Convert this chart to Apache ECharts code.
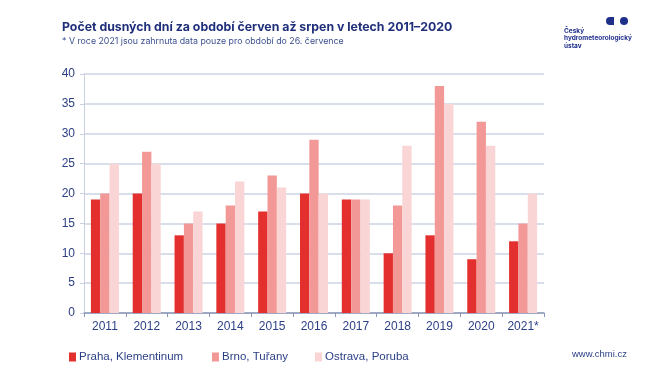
<!DOCTYPE html>
<html><head><meta charset="utf-8">
<script src="https://cdn.jsdelivr.net/npm/echarts@6/dist/echarts.min.js"></script>
<style>html,body{margin:0;padding:0;background:#fff}#c{width:670px;height:376px}</style>
</head><body><div id="c"></div>
<script>
const categories = ['2011','2012','2013','2014','2015','2016','2017','2018','2019','2020','2021*'];
const praha = [19,20,13,15,17,20,19,10,13,9,12];
const brno = [20,27,15,18,23,29,19,18,38,32,15];
const ostrava = [25,25,17,22,21,20,19,28,35,28,20];
const seriesNames = ['Praha, Klementinum','Brno, Tuřany','Ostrava, Poruba'];
const yTicks = [0,5,10,15,20,25,30,35,40];

const navy = '#2b3f85';
const colors = ['#e3302f','#f29998','#fad5d5'];
const chart = echarts.init(document.getElementById('c'));
const legendBase = {
  top: 346, itemWidth: 7, itemHeight: 9, icon: 'rect', itemGap: 4,
  textStyle: {color: navy, fontFamily: 'Liberation Sans', fontSize: 11.5, padding:[0,0,0,-2]},
  selectedMode: false
};
chart.setOption({
  animation: false,
  color: colors,
  title: [{
    text: 'Počet dusných dní za období červen až srpen v letech 2011–2020',
    left: 57, top: 16,
    textStyle: {color: '#1f2f7a', fontFamily: 'Inter', fontWeight: 'bold', fontSize: 12.3}
  },{
    text: '* V roce 2021 jsou zahrnuta data pouze pro období do 26. července',
    left: 57, top: 32,
    textStyle: {color: '#3b4f8f', fontFamily: 'Inter', fontWeight: 'normal', fontSize: 8.8}
  }],
  legend: [
    Object.assign({}, legendBase, {left: 64, data: [seriesNames[0]]}),
    Object.assign({}, legendBase, {left: 207, data: [seriesNames[1]]}),
    Object.assign({}, legendBase, {left: 310, data: [seriesNames[2]]})
  ],
  grid: {left: 84, right: 126, top: 74, bottom: 63},
  xAxis: {
    type: 'category', data: categories,
    axisLine: {lineStyle: {color: '#8d98b8', width: 1.5}},
    axisTick: {show: true, lineStyle: {color: '#8d98b8'}, length: 4},
    axisLabel: {color: navy, fontFamily: 'Liberation Sans', fontSize: 12, margin: 8}
  },
  yAxis: {
    type: 'value', min: 0, max: 40, interval: 5,
    axisLine: {show: true, lineStyle: {color: '#c9d0e2'}},
    axisTick: {show: true, length: 4, lineStyle: {color: '#c9d0e2'}},
    splitLine: {lineStyle: {color: '#ccd3e4', width: 1.5}},
    axisLabel: {color: navy, fontFamily: 'Liberation Sans', fontSize: 12, margin: 9}
  },
  series: [
    {name: seriesNames[0], type: 'bar', data: praha, barGap: '0%', barCategoryGap: '33%'},
    {name: seriesNames[1], type: 'bar', data: brno, barGap: '0%', barCategoryGap: '33%'},
    {name: seriesNames[2], type: 'bar', data: ostrava, barGap: '0%', barCategoryGap: '33%'}
  ],
  graphic: [
    {type: 'circle', shape: {cx: 610, cy: 21, r: 4}, style: {fill: '#1f2f8a'}},
    {type: 'rect', shape: {x: 609, y: 17, width: 5, height: 8}, style: {fill: '#1f2f8a'}},
    {type: 'circle', shape: {cx: 624, cy: 21, r: 4}, style: {fill: '#1f2f8a'}},
    {type: 'text', left: 564, top: 27, style: {text: 'Český\nhydrometeorologický\nústav', fill: '#1f2f8a', font: 'bold 6.5px Inter', lineHeight: 7.5}},
    {type: 'text', left: 572, top: 349, style: {text: 'www.chmi.cz', fill: '#2b3f85', font: '9.5px Liberation Sans'}}
  ]
});
</script></body></html>
